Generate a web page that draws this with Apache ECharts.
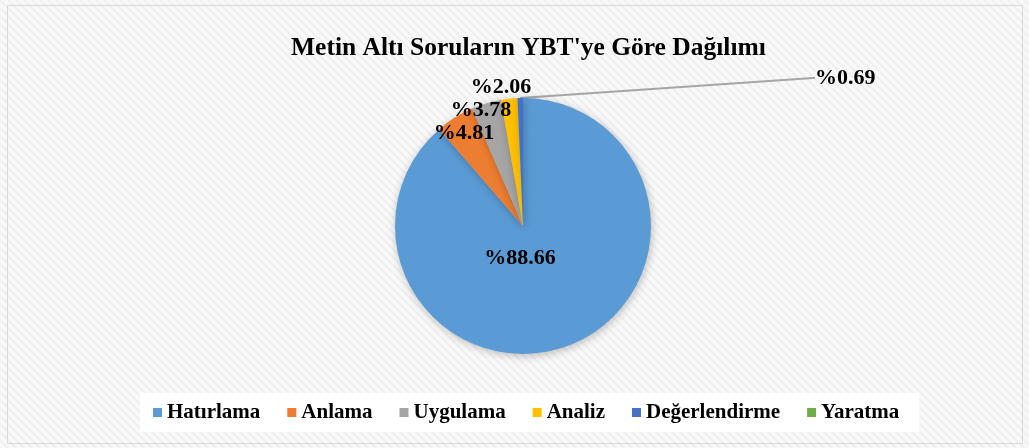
<!DOCTYPE html>
<html>
<head>
<meta charset="utf-8">
<script src="https://cdn.jsdelivr.net/npm/echarts@6/dist/echarts.min.js"></script>
<style>
  html, body { margin: 0; padding: 0; }
  #chart { width: 1029px; height: 448px; }
</style>
</head>
<body>
<div id="chart"></div>
<script>
// veri
var categories = ["Hatırlama", "Anlama", "Uygulama", "Analiz", "Değerlendirme", "Yaratma"];
var values = [88.66, 4.81, 3.78, 2.06, 0.69, 0];
var colors = ["#5b9bd5", "#ed7d31", "#a5a5a5", "#ffc000", "#4472c4", "#70ad47"];

(function () {
    // çizgili arka plan
    var c = document.createElement("canvas");
    c.width = 8; c.height = 8;
    var ctx = c.getContext("2d");
    ctx.fillStyle = "#f9f9f9";
    ctx.fillRect(0, 0, 8, 8);
    ctx.strokeStyle = "#efefef";
    ctx.lineWidth = 2;
    for (var k = -8; k <= 16; k += 8) {
        ctx.beginPath();
        ctx.moveTo(k, 0);
        ctx.lineTo(k + 8, 8);
        ctx.stroke();
    }

    var myChart = echarts.init(document.getElementById("chart"));
    var font = "'Liberation Serif', 'Times New Roman', serif";

    // etiket yerleri (Excel'deki gibi)
    var labelPos = [[520, 258], [464, 133], [481, 110], [501, 87], [815, 78]];

    var data = categories.map(function (name, i) {
        var item = { name: name, value: values[i], itemStyle: { color: colors[i] } };
        if (i === 4) {
            item.labelLine = { show: true };
        }
        if (values[i] === 0) {
            item.label = { show: false };
        }
        return item;
    });

    var option = {
        backgroundColor: { image: c, repeat: "repeat" },
        title: {
            text: "Metin Altı Soruların YBT'ye Göre Dağılımı",
            left: 286,
            top: 30,
            textStyle: { fontFamily: font, fontSize: 25.5, fontWeight: "bold", color: "#000" }
        },
        legend: {
            bottom: 16,
            left: 140,
            backgroundColor: "#ffffff",
            padding: [9, 20, 9, 13],
            itemGap: 27,
            itemWidth: 9,
            itemHeight: 9,
            icon: "rect",
            textStyle: { fontFamily: font, fontSize: 21, fontWeight: "bold", color: "#000" },
            data: categories
        },
        graphic: [{
            type: "rect",
            shape: { x: 7.5, y: 5.5, width: 1015, height: 438 },
            style: { fill: null, stroke: "#d9d9d9", lineWidth: 1 },
            silent: true
        }],
        series: [{
            type: "pie",
            center: [523, 226],
            radius: 128,
            startAngle: 90,
            clockwise: true,
            avoidLabelOverlap: false,
            itemStyle: {
                shadowBlur: 8,
                shadowColor: "rgba(0,0,0,0.25)",
                shadowOffsetX: 1,
                shadowOffsetY: 2
            },
            label: {
                position: "outside",
                formatter: function (p) { return "%" + p.value.toFixed(2); },
                fontFamily: font,
                fontSize: 22,
                fontWeight: "bold",
                color: "#000"
            },
            labelLine: { show: false, length: 2, length2: 2, lineStyle: { color: "#a6a6a6", width: 2 } },
            labelLayout: function (p) {
                var pos = labelPos[p.dataIndex];
                if (!pos) return {};
                if (p.dataIndex === 4) {
                    return { x: pos[0], y: pos[1], align: "left", verticalAlign: "middle" };
                }
                return { x: pos[0], y: pos[1], align: "center", verticalAlign: "middle" };
            },
            data: data
        }]
    };
    myChart.setOption(option);
})();
</script>
</body>
</html>
